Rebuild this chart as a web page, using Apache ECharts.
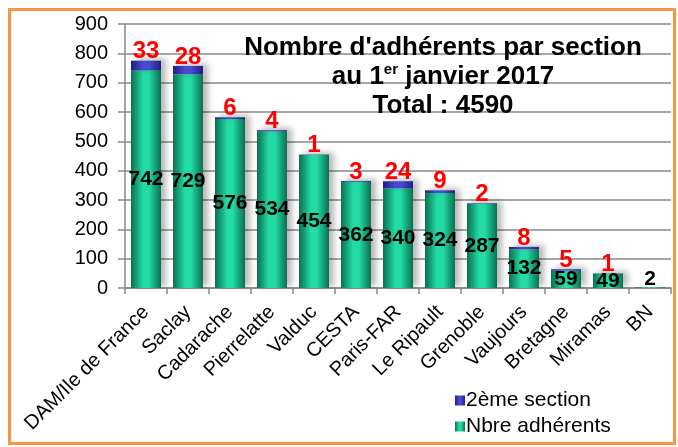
<!DOCTYPE html>
<html>
<head>
<meta charset="utf-8">
<script src="https://cdn.jsdelivr.net/npm/echarts@6/dist/echarts.min.js"></script>
<style>
  html, body { margin: 0; padding: 0; background: #fff; }
  #chart { width: 678px; height: 447px; }
</style>
</head>
<body>
<div id="chart"></div>
<script>
const categories = ['DAM/Ile de France', 'Saclay', 'Cadarache', 'Pierrelatte', 'Valduc', 'CESTA',
  'Paris-FAR', 'Le Ripault', 'Grenoble', 'Vaujours', 'Bretagne', 'Miramas', 'BN']
const adherents = [742, 729, 576, 534, 454, 362, 340, 324, 287, 132, 59, 49, 2]
const deuxiemeSection = [33, 28, 6, 4, 1, 3, 24, 9, 2, 8, 5, 1, 0]
const yTicks = {min: 0, max: 900, interval: 100}

const fontFamily = '"Liberation Sans", Arial, sans-serif'

// dégradé horizontal pour l'effet cylindre
const cylinder = (edge, mid) => new echarts.graphic.LinearGradient(0, 0, 1, 0, [
  {offset: 0, color: edge},
  {offset: 0.4, color: mid},
  {offset: 0.6, color: mid},
  {offset: 1, color: edge}
])

const chart = echarts.init(document.getElementById('chart'))

const option = {
  animation: false,
  grid: {left: 125, right: 7, top: 24, bottom: 159},
  graphic: [
    {
      type: 'rect',
      shape: {x: 9.5, y: 9.5, width: 665, height: 434},
      style: {fill: 'none', stroke: '#F79646', lineWidth: 3},
      silent: true
    },
    {
      type: 'text',
      x: 443,
      y: 33,
      z: 10,
      style: {
        text: '{a|Nombre d\'adhérents par section}\n{a|au 1}{s|er}{a| janvier 2017}\n{a|Total : 4590}',
        align: 'center',
        rich: {
          a: {fontFamily: fontFamily, fontWeight: 'bold', fontSize: 26, lineHeight: 29, fill: '#000'},
          s: {fontFamily: fontFamily, fontWeight: 'bold', fontSize: 15, lineHeight: 29, fill: '#000', verticalAlign: 'top', padding: [0, 0, 10, 0]}
        }
      }
    }
  ],
  legend: {
    orient: 'vertical',
    left: 450,
    top: 385,
    itemWidth: 10,
    itemHeight: 10,
    itemGap: 5,
    icon: 'rect',
    data: ['2ème section', 'Nbre adhérents'],
    textStyle: {fontFamily: fontFamily, fontSize: 21, color: '#000', padding: [0, 0, 0, -4]}
  },
  xAxis: {
    type: 'category',
    data: categories,
    axisLine: {lineStyle: {color: '#888', width: 1.5}},
    axisTick: {show: true, length: 6, lineStyle: {color: '#888', width: 1.5}},
    axisLabel: {
      interval: 0,
      rotate: 45,
      margin: 21,
      fontFamily: fontFamily,
      fontSize: 20,
      color: '#000'
    }
  },
  yAxis: {
    type: 'value',
    min: yTicks.min,
    max: yTicks.max,
    interval: yTicks.interval,
    axisLine: {show: true, lineStyle: {color: '#888', width: 1.5}},
    axisTick: {show: true, length: 7, lineStyle: {color: '#888', width: 1.5}},
    splitLine: {lineStyle: {color: '#888', width: 1.5}},
    axisLabel: {
      margin: 17,
      fontFamily: fontFamily,
      fontSize: 20,
      color: '#000'
    }
  },
  series: [
    {
      name: 'Nbre adhérents',
      type: 'bar',
      stack: 'total',
      barWidth: 30,
      // les très petites valeurs : étiquette posée au-dessus de l'axe
      data: adherents.map((v) => v < 20 ? {value: v, label: {position: 'top', distance: -2}} : v),
      itemStyle: {
        color: cylinder('#0a7052', '#22dba5'),
        shadowColor: 'rgba(0,0,0,0.28)',
        shadowBlur: 6,
        shadowOffsetX: 5,
        shadowOffsetY: -2
      },
      label: {
        show: true,
        position: 'inside',
        fontFamily: fontFamily,
        fontWeight: 'bold',
        fontSize: 21,
        color: '#000'
      }
    },
    {
      name: '2ème section',
      type: 'bar',
      stack: 'total',
      barWidth: 30,
      data: deuxiemeSection,
      itemStyle: {
        color: cylinder('#1e1e80', '#4a4ad0'),
        shadowColor: 'rgba(0,0,0,0.28)',
        shadowBlur: 6,
        shadowOffsetX: 5,
        shadowOffsetY: -2
      },
      label: {
        show: true,
        position: 'top',
        distance: -3,
        formatter: (p) => p.value > 0 ? p.value : '',
        fontFamily: fontFamily,
        fontWeight: 'bold',
        fontSize: 24,
        color: '#ff0000'
      }
    }
  ]
}

chart.setOption(option)
</script>
</body>
</html>
